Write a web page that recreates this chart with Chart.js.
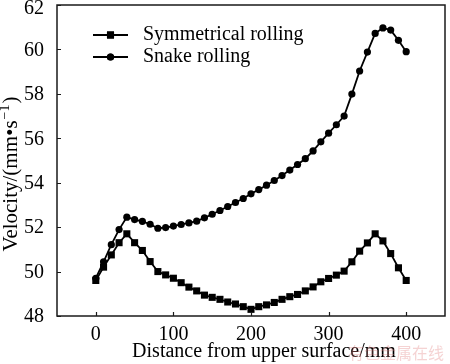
<!DOCTYPE html>
<html>
<head>
    <meta charset="utf-8" />
    <title>Velocity vs distance</title>
    <style>
        body {
            margin: 0;
            background: #fff;
        }
    </style>
</head>
<body>
    <canvas id="chartCanvas" width="450" height="364"></canvas>

<script src="https://cdn.jsdelivr.net/npm/chart.js@4.4.1/dist/chart.umd.min.js"></script>
<script>
    // distance from upper surface, mm
    var distances = [0, 10, 20, 30, 40, 50, 60, 70, 80, 90, 100, 110, 120, 130, 140, 150, 160, 170, 180, 190, 200,
        210, 220, 230, 240, 250, 260, 270, 280, 290, 300, 310, 320, 330, 340, 350, 360, 370, 380, 390, 400];

    var symmetrical = [49.6, 50.2, 50.75, 51.3, 51.7, 51.3, 50.95, 50.45, 50.0, 49.85, 49.7, 49.5, 49.3, 49.13, 48.94,
        48.84, 48.75, 48.63, 48.54, 48.42, 48.3, 48.42, 48.5, 48.61, 48.75, 48.87, 48.97, 49.13, 49.31, 49.54,
        49.69, 49.84, 50.02, 50.44, 50.92, 51.29, 51.7, 51.38, 50.81, 50.17, 49.6];

    var snake = [49.7, 50.44, 51.21, 51.89, 52.45, 52.34, 52.26, 52.13, 51.95, 51.98, 52.05, 52.12, 52.19, 52.27, 52.42,
        52.58, 52.75, 52.93, 53.11, 53.29, 53.5, 53.69, 53.89, 54.1, 54.32, 54.57, 54.82, 55.08, 55.43, 55.84,
        56.23, 56.61, 57.0, 57.99, 59.03, 59.88, 60.72, 60.97, 60.87, 60.41, 59.9];

    var seriesNames = ["Symmetrical rolling", "Snake rolling"];
    var xTicks = [0, 100, 200, 300, 400];
    var yTicks = [48, 50, 52, 54, 56, 58, 60, 62];
    var xTitle = "Distance from upper surface/mm";
    var yTitle = ["Velocity/(mm•s", "−1", ")"];   // base, superscript, tail

    var serif = "'Liberation Serif', 'Times New Roman', serif";

    function pairs(xs, ys) {
        var out = [];
        for (var i = 0; i < xs.length; i++) out.push({ x: xs[i], y: ys[i] });
        return out;
    }

    // box around plot + inward tick marks
    var frameTicks = {
        id: 'frameTicks',
        beforeDraw: function (chart) {
            // nudge y labels down a bit; the top one must not be cut off
            var items = chart.scales.y.getLabelItems();
            if (items._nudged) return;
            items.forEach(function (it, i) {
                it.options.translation[1] += (i === items.length - 1) ? 4 : 1;
            });
            items._nudged = true;
        },
        afterDraw: function (chart) {
            var ctx = chart.ctx, a = chart.chartArea;
            var xs = chart.scales.x, ys = chart.scales.y;
            ctx.save();
            ctx.strokeStyle = '#1a1a1a';
            ctx.lineWidth = 1.5;
            ctx.strokeRect(a.left, a.top, a.right - a.left, a.bottom - a.top);
            ctx.lineWidth = 1.2;
            ctx.beginPath();
            xs.ticks.forEach(function (t) {
                var px = Math.round(xs.getPixelForValue(t.value)) + 0.5;
                ctx.moveTo(px, a.bottom);
                ctx.lineTo(px, a.bottom - 4);
            });
            ys.ticks.forEach(function (t) {
                var py = Math.round(ys.getPixelForValue(t.value)) + 0.5;
                ctx.moveTo(a.left, py);
                ctx.lineTo(a.left + 4, py);
            });
            ctx.stroke();
            ctx.restore();
        }
    };

    // axis titles (placed by hand, the original is not centred on the axis)
    var axisTitles = {
        id: 'axisTitles',
        afterDraw: function (chart) {
            var ctx = chart.ctx;
            ctx.save();
            ctx.fillStyle = '#000';
            ctx.textBaseline = 'alphabetic';
            ctx.textAlign = 'center';
            ctx.font = '20px ' + serif;
            ctx.fillText(xTitle, 264, 357);

            // y title, rotated, with superscript
            ctx.translate(17, 174);
            ctx.rotate(-Math.PI / 2);
            var big = '21px ' + serif, small = '14px ' + serif;
            ctx.font = big;
            var w0 = ctx.measureText(yTitle[0]).width;
            var w2 = ctx.measureText(yTitle[2]).width;
            ctx.font = small;
            var w1 = ctx.measureText(yTitle[1]).width;
            var x = -(w0 + w1 + w2 + 2) / 2;
            ctx.textAlign = 'left';
            ctx.font = big;
            ctx.fillText(yTitle[0], x, 0);
            ctx.font = small;
            ctx.fillText(yTitle[1], x + w0 + 1, -8);
            ctx.font = big;
            ctx.fillText(yTitle[2], x + w0 + w1 + 2, 0);
            ctx.restore();
        }
    };

    // legend drawn inside the plot, top-left
    var innerLegend = {
        id: 'innerLegend',
        afterDraw: function (chart) {
            var ctx = chart.ctx;
            var x0 = 93, x1 = 128, tx = 143;
            var rows = [35, 57];
            ctx.save();
            chart.data.datasets.forEach(function (ds, i) {
                var y = rows[i];
                ctx.strokeStyle = '#000';
                ctx.lineWidth = 1.8;
                ctx.beginPath();
                ctx.moveTo(x0, y);
                ctx.lineTo(x1, y);
                ctx.stroke();
                Chart.helpers.drawPoint(ctx, {
                    pointStyle: ds.pointStyle, radius: ds.pointRadius, borderWidth: 0
                }, (x0 + x1) / 2, y);
                ctx.fillStyle = '#000';
                ctx.fill();
                ctx.font = '20px ' + serif;
                ctx.textBaseline = 'middle';
                ctx.textAlign = 'left';
                ctx.fillText(ds.label, tx, y);
            });
            ctx.restore();
        }
    };

    var watermark = {
        id: 'watermark',
        afterDraw: function (chart) {
            var ctx = chart.ctx;
            ctx.save();
            ctx.fillStyle = 'rgba(225, 130, 130, 0.35)';
            ctx.font = "16px 'Noto Sans CJK SC'";
            ctx.textBaseline = 'middle';
            ctx.fillText('有色金属在线', 348, 353);
            ctx.restore();
        }
    };

    var ctx_1 = document.getElementById("chartCanvas").getContext("2d");
    var chart1 = new Chart(ctx_1, {
        type: 'line',
        data: {
            datasets: [{
                label: seriesNames[0],
                data: pairs(distances, symmetrical),
                borderColor: '#000',
                backgroundColor: '#000',
                borderWidth: 1.8,
                pointStyle: 'rect',
                pointRadius: 5,
                pointBorderWidth: 0,
                fill: false,
                tension: 0
            }, {
                label: seriesNames[1],
                data: pairs(distances, snake),
                borderColor: '#000',
                backgroundColor: '#000',
                borderWidth: 1.8,
                pointStyle: 'circle',
                pointRadius: 3.6,
                pointBorderWidth: 0,
                fill: false,
                tension: 0
            }]
        },
        options: {
            responsive: false,
            animation: false,
            devicePixelRatio: 1,
            layout: { padding: { top: 4, right: 2, left: 0, bottom: 0 } },
            plugins: {
                legend: { display: false },
                tooltip: { enabled: false }
            },
            scales: {
                x: {
                    type: 'linear',
                    min: -50,
                    max: 450,
                    grid: { display: false },
                    border: { display: false },
                    afterBuildTicks: function (s) {
                        s.ticks = xTicks.map(function (v) { return { value: v }; });
                    },
                    afterFit: function (s) {
                        s.height = 48;
                        s.paddingLeft = 0; s.paddingRight = 0;
                    },
                    ticks: {
                        color: '#000',
                        padding: -1,
                        maxRotation: 0,
                        font: { family: serif, size: 20 }
                    }
                },
                y: {
                    min: 48,
                    max: 62,
                    grid: { display: false },
                    border: { display: false },
                    afterBuildTicks: function (s) {
                        s.ticks = yTicks.map(function (v) { return { value: v }; });
                    },
                    afterFit: function (s) {
                        s.width = 57;
                        s.paddingTop = 0; s.paddingBottom = 0;
                    },
                    ticks: {
                        color: '#000',
                        padding: 5,
                        font: { family: serif, size: 20 }
                    }
                }
            }
        },
        plugins: [frameTicks, axisTitles, innerLegend, watermark]
    });
</script>
</body>
</html>
